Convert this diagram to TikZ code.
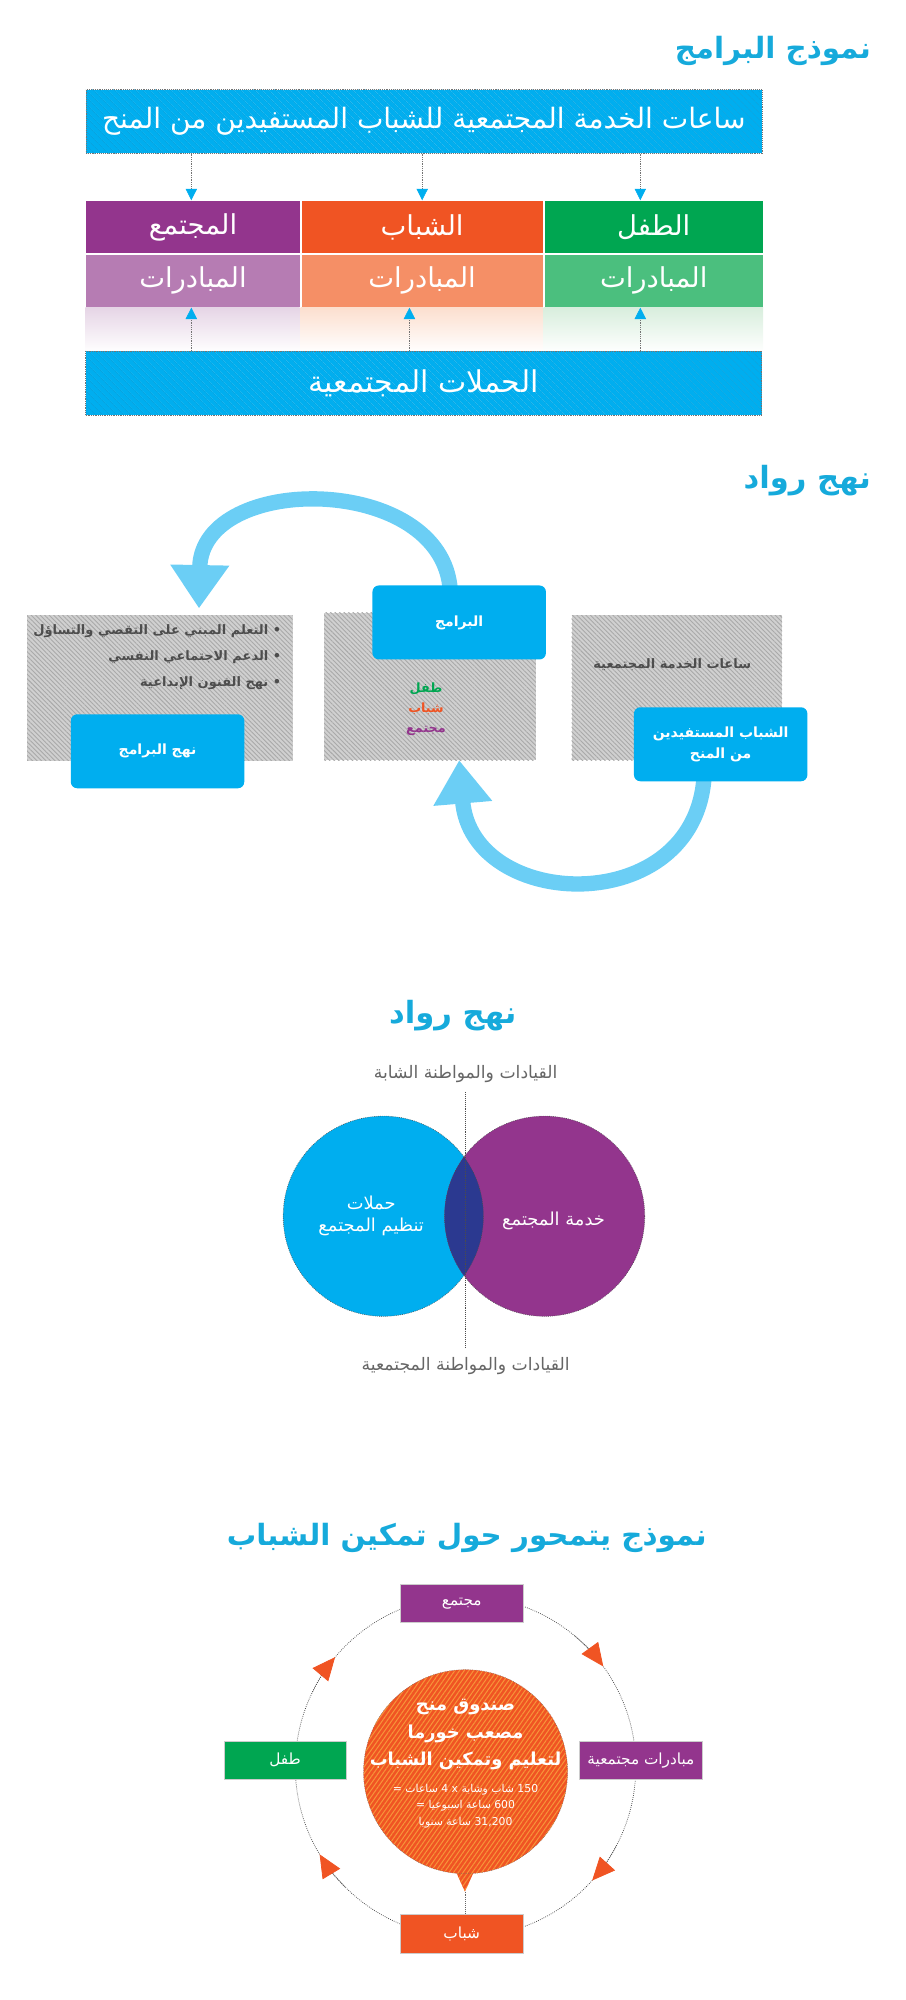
\documentclass[tikz,border=0pt]{standalone}
\usepackage{fontspec}
\TeXXeTstate=1
\newfontfamily\arb[Script=Arabic]{DejaVu Sans}
\usetikzlibrary{positioning,arrows.meta,patterns.meta}
\pgfdeclarelayer{back}
\pgfsetlayers{back,main}

\definecolor{ttlcyan}{HTML}{16AADB}
\definecolor{boxcyan}{HTML}{00AEEF}
\definecolor{hatchcyan}{HTML}{0A9FD8}
\definecolor{arccyan}{HTML}{6BCEF5}
\definecolor{cpurple}{HTML}{93358D}
\definecolor{lpurple}{HTML}{B67CB3}
\definecolor{fpurple}{HTML}{E6D5E6}
\definecolor{corange}{HTML}{F05423}
\definecolor{lorange}{HTML}{F58F66}
\definecolor{forange}{HTML}{FCDFCF}
\definecolor{cgreen}{HTML}{00A651}
\definecolor{lgreen}{HTML}{4BBF7E}
\definecolor{fgreen}{HTML}{D8EEDD}
\definecolor{navy}{HTML}{2B3990}
\definecolor{txtgray}{HTML}{4D4D4D}
\definecolor{lblgray}{HTML}{666666}
\definecolor{boxgray}{HTML}{D0D0D0}
\definecolor{hatchgray}{HTML}{A9A9A9}
\definecolor{hatchorange}{HTML}{F7943A}

\newcommand\rtl[1]{\beginR #1\endR}
\newcommand\fs[2]{\fontsize{#1}{#2}\selectfont}

\begin{document}
\begin{tikzpicture}[x=1pt,y=-1pt,
 ttl/.style={font=\arb\bfseries\fs{23}{27},text=ttlcyan,inner sep=0},
 band/.style={preaction={fill=boxcyan},pattern={Lines[angle=-45,distance=4pt,line width=.5pt]},
  pattern color=hatchcyan,draw=black!55,densely dotted,text=white,font=\arb\fs{22}{26},
  minimum width=530,minimum height=50,inner sep=0,anchor=north west},
 cell/.style={draw=white,line width=.6pt,text=white,font=\arb\fs{21.5}{24},minimum height=41.5,inner sep=0},
 dnarrow/.style={draw=black!55,densely dotted,-{Triangle[width=9pt,length=9pt,color=boxcyan]}},
 grayhatch/.style={preaction={fill=boxgray},pattern={Lines[angle=-45,distance=2.5pt,line width=.7pt]},
  pattern color=hatchgray,inner sep=0,anchor=north west},
 bluebox/.style={fill=boxcyan,rounded corners=5,text=white,font=\arb\bfseries\fs{11}{17},
  align=center,minimum width=136,minimum height=58,inner sep=0},
 bigarrow/.style={draw=arccyan,line width=12pt,-{Triangle[width=44pt,length=34pt]}},
 grtext/.style={text=txtgray,font=\arb\bfseries\fs{10.2}{20.5}},
 lbl/.style={text=lblgray,font=\arb\fs{13.5}{16}},
 venn/.style={circle,minimum size=157,inner sep=0},
 vtext/.style={text=white,font=\arb\fs{14}{17},align=center},
 pbox/.style={minimum width=96,minimum height=30,inner sep=0,text=white,draw=white!80!black,
  line width=.4pt,font=\arb\fs{12}{14}},
 ring/.style={draw=black!70,densely dotted,line width=.6pt},
 ringtip/.style={ring,-{Triangle[width=16pt,length=18pt,color=corange]}},
 fundfill/.style={preaction={fill=corange},pattern={Lines[angle=55,distance=3pt,line width=.8pt]},
  pattern color=hatchorange}]
\useasboundingbox (0,0) rectangle (710,1568);

% --- programmes model
\node[ttl,anchor=east] (t1) at (683,40) {\rtl{نموذج البرامج}};
\node[band] (hrs) at (67,70) {\rtl{ساعات الخدمة المجتمعية للشباب المستفيدين من المنح}};
\node[cell,fill=cpurple,minimum width=168,anchor=north west] (h1) at (67,157) {\rtl{المجتمع}};
\node[cell,fill=corange,minimum width=190,right=0pt of h1] (h2) {\rtl{الشباب}};
\node[cell,fill=cgreen,minimum width=172,right=0pt of h2] (h3) {\rtl{الطفل}};
\node[cell,fill=lpurple,minimum width=168,below=0pt of h1] (i1) {\rtl{المبادرات}};
\node[cell,fill=lorange,minimum width=190,below=0pt of h2] (i2) {\rtl{المبادرات}};
\node[cell,fill=lgreen,minimum width=172,below=0pt of h3] (i3) {\rtl{المبادرات}};
\shade[top color=fpurple,bottom color=white] (i1.south west) rectangle ++(168,35);
\shade[top color=forange,bottom color=white] (i2.south west) rectangle ++(190,35);
\shade[top color=fgreen,bottom color=white] (i3.south west) rectangle ++(172,35);
\node[band,font=\arb\fs{23.5}{26}] (camp) at (67,275) {\rtl{الحملات المجتمعية}};
\foreach \n/\x in {1/150,2/331,3/502} \coordinate (a\n) at (\x,0);
\foreach \n/\x in {1/150,2/321,3/502} \coordinate (b\n) at (\x,0);
\foreach \n in {1,2,3}{
 \draw[dnarrow] (hrs.south -| a\n) -- (h\n.north -| a\n);
 \draw[dnarrow] (camp.north -| b\n) -- (i\n.south -| b\n);
}

% --- rowad approach, cycle
\node[ttl,anchor=east,font=\arb\bfseries\fs{24}{27}] (t2) at (683,377) {\rtl{نهج رواد}};
\node[grayhatch,minimum width=208,minimum height=114] (g1) at (21,482) {};
\node[grayhatch,minimum width=166,minimum height=116] (g2) at (254,480) {};
\node[grayhatch,minimum width=165,minimum height=114] (g3) at (448,482) {};
\node[bluebox] (prog) at (360,488) {\rtl{البرامج}};
\node[bluebox] (appr) at (123.5,589) {\rtl{نهج البرامج}};
\node[bluebox] (youth) at (565,583.5) {\rtl{الشباب المستفيدين}\\\rtl{من المنح}};
\node[grtext,anchor=north east,align=right] (bul) at (224,486)
 {\rtl{• التعلم المبني على التقصي والتساؤل}\\\rtl{• الدعم الاجتماعي النفسي}\\\rtl{• نهج الفنون الإبداعية}};
\node[font=\arb\bfseries\fs{10}{16},align=center] (mix) at (334,556)
 {\textcolor{cgreen}{\rtl{طفل}}\\\textcolor{corange}{\rtl{شباب}}\\\textcolor{cpurple}{\rtl{مجتمع}}};
\node[grtext] (svc) at (527,521) {\rtl{ساعات الخدمة المجتمعية}};
\coordinate (tipA) at (156,477);
\coordinate (tipB) at (360,596);
\begin{pgfonlayer}{back}
\draw[bigarrow] ([xshift=-7pt,yshift=-4pt]prog.north) .. controls +(-6,-92) and (158,370) .. (tipA);
\draw[bigarrow] ([xshift=-13pt,yshift=4pt]youth.south) .. controls +(-7,112) and (370,715) .. (tipB);
\end{pgfonlayer}

% --- rowad approach, venn
\node[ttl,font=\arb\bfseries\fs{24}{27}] (t3) at (355,796) {\rtl{نهج رواد}};
\node[lbl] (lead1) at (365,842) {\rtl{القيادات والمواطنة الشابة}};
\node[lbl] (lead2) at (365,1071) {\rtl{القيادات والمواطنة المجتمعية}};
\node[venn,fill=boxcyan] (cl) at (300.5,953.5) {};
\node[venn,fill=cpurple] (cr) at (427,953.5) {};
\begin{scope}
\clip (cl.center) circle (78.5);
\fill[navy] (cr.center) circle (78.5);
\end{scope}
\draw[black!70,densely dotted,line width=.5pt] (cl.center) circle (78.5) (cr.center) circle (78.5);
\draw[black!70,densely dotted,line width=.5pt] ([yshift=-4pt]lead1.south) -- ([yshift=4pt]lead2.north);
\node[vtext] (ct1) at (291,953) {\rtl{حملات}\\\rtl{تنظيم المجتمع}};
\node[vtext] (ct2) at (434,957) {\rtl{خدمة المجتمع}};

% --- youth centred model
\node[ttl] (t4) at (366,1206) {\rtl{نموذج يتمحور حول تمكين الشباب}};
\coordinate (hub) at (365,1385);
\draw[ring] (hub) circle (133.5);
\foreach \a in {-144,-40,38,145}
 \draw[ringtip] (hub) ++(\a-10:133.5) arc[start angle=\a-10,end angle=\a+4,radius=133.5];
\node[pbox,fill=cpurple] (top4) at (362,1257) {\rtl{مجتمع}};
\node[pbox,fill=corange] (bot4) at (362,1516) {\rtl{شباب}};
\node[pbox,fill=cgreen] (left4) at (223.5,1380) {\rtl{طفل}};
\node[pbox,fill=cpurple] (right4) at (502.5,1380) {\rtl{مبادرات مجتمعية}};
\coordinate (fundc) at (365,1389);
\coordinate (ptip) at (364.5,1483);
\path[fundfill] (fundc) circle (80);
\path[fundfill] (355,1462) -- (ptip) -- (374,1462) -- cycle;
\draw[black!60,densely dotted,line width=.4pt] (fundc) circle (80);
\draw[black!60,densely dotted,line width=.5pt] (ptip) -- (bot4.north -| ptip);
\node[text=white,font=\arb\bfseries\fs{14}{21.5},align=center] (fundA) at (365,1360)
 {\rtl{صندوق منح}\\\rtl{مصعب خورما}\\\rtl{لتعليم وتمكين الشباب}};
\node[text=white,font=\arb\fs{8.5}{13},align=center] (fundB) at (365,1416)
 {\rtl{150 شاب وشابة x 4 ساعات =}\\\rtl{600 ساعة اسبوعيا =}\\\rtl{31,200 ساعة سنويا}};
\end{tikzpicture}
\end{document}
